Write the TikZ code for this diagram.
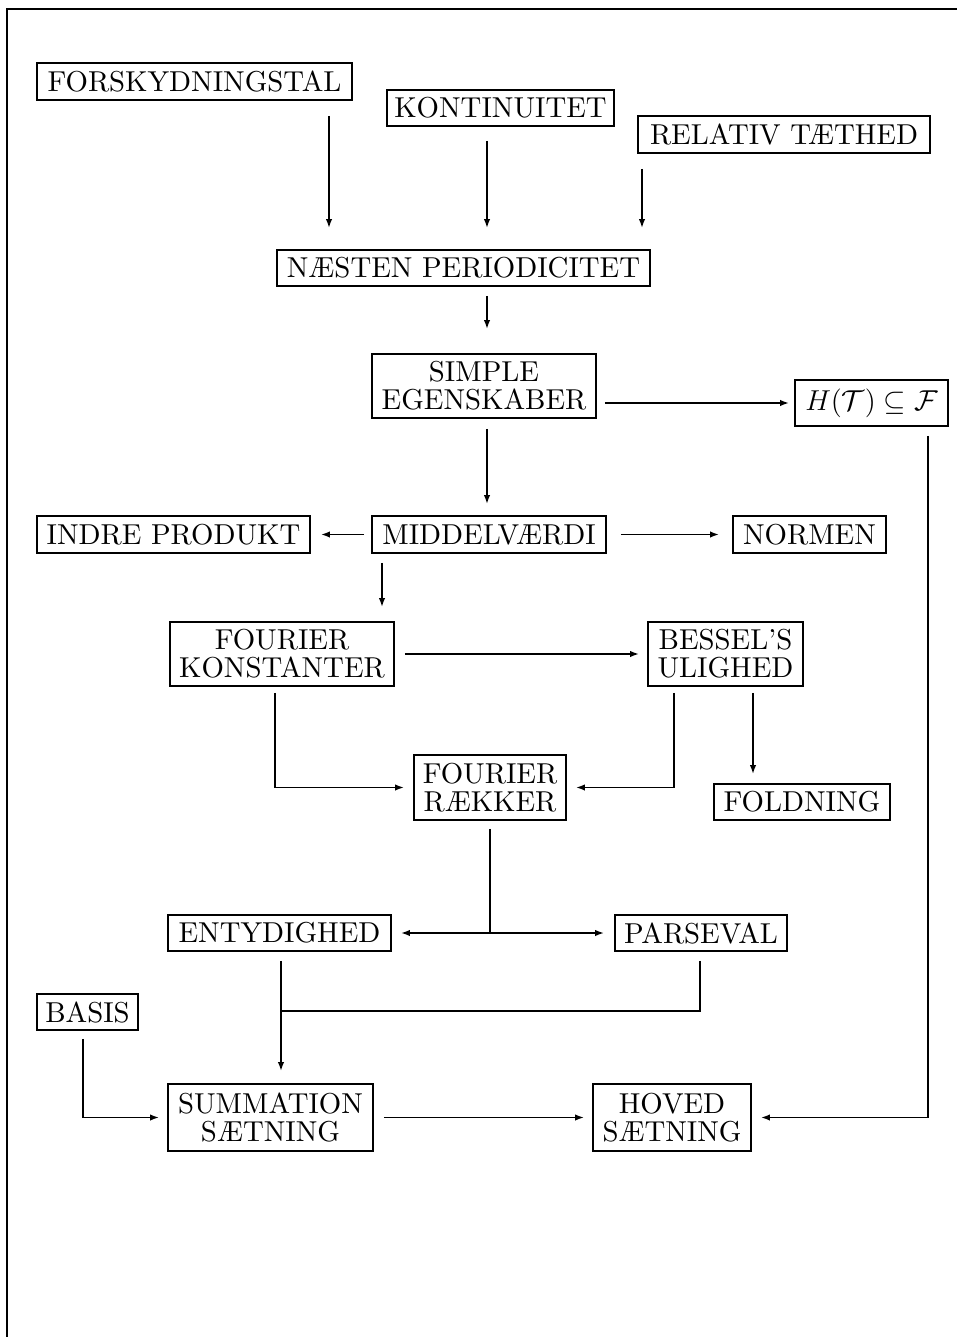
\documentclass[tikz,border=0pt]{standalone}
\usepackage{amssymb}
\usepackage{fontspec}
\setmainfont{lmroman10-regular}[Extension=.otf]
\usetikzlibrary{arrows.meta}
\begin{document}
\begin{tikzpicture}[x=0.5pt,y=-0.5pt,
  box/.style={draw, line width=0.9pt, inner sep=0pt, align=center,
    font=\fontsize{14.4}{14}\selectfont},
  sz/.style 2 args={minimum width={#1*0.5pt}, minimum height={#2*0.5pt}},
  ln/.style={line width=0.8pt},
  arr/.style={line width=0.8pt, -{Latex[length=4.5pt,width=3.2pt]}}]
\useasboundingbox (0,0) rectangle (957,1337);
\draw[line width=1.1pt] (7,1337) -- (7,9) -- (957,9);

% nodes
\node[box, sz={315}{37}] (forsk) at (194.5,81.5) {FORSKYDNINGSTAL};
\node[box, sz={227}{36}] (konti) at (500.5,108) {KONTINUITET};
\node[box, sz={292}{37}] (relativ) at (784,134.5) {RELATIV TÆTHED};
\node[box, sz={373}{36}] (nps) at (463.5,268) {NÆSTEN PERIODICITET};
\node[box, sz={224}{64}] (simple) at (484,386) {SIMPLE\\EGENSKABER};
\node[box, sz={153}{46}] (H) at (871.5,403) {$H(\mathcal{T})\subseteq\mathcal{F}$};
\node[box, sz={234}{37}] (middel) at (489,534.5) {MIDDELVÆRDI};
\node[box, sz={273}{37}] (indre) at (173.5,534.5) {INDRE PRODUKT};
\node[box, sz={153}{37}] (normen) at (809.5,534.5) {NORMEN};
\node[box, sz={224}{64}] (fkonst) at (282,654) {FOURIER\\KONSTANTER};
\node[box, sz={155}{64}] (bessel) at (725.5,654) {BESSEL'S\\ULIGHED};
\node[box, sz={152}{65}] (raekker) at (490,787.5) {FOURIER\\RÆKKER};
\node[box, sz={176}{36}] (fold) at (802,802) {FOLDNING};
\node[box, sz={223}{36}] (entyd) at (279.5,933) {ENTYDIGHED};
\node[box, sz={172}{36}] (parseval) at (701,933) {PARSEVAL};
\node[box, sz={101}{36}] (basis) at (87.5,1012) {BASIS};
\node[box, sz={205}{67}] (sum) at (270.5,1117.5) {SUMMATION\\SÆTNING};
\node[box, sz={158}{67}] (hoved) at (672,1117.5) {HOVED\\SÆTNING};

% lanes
\coordinate (L1) at (329,0);
\coordinate (L2) at (487,0);
\coordinate (L3) at (642,0);
\coordinate (L4) at (382,0);
\coordinate (L5) at (275,0);
\coordinate (L6) at (674,0);
\coordinate (L7) at (753,0);
\coordinate (L8) at (281,0);
\coordinate (L9) at (700,0);
\coordinate (L10) at (83,0);
\coordinate (L11) at (928,0);
\coordinate (J) at (281,1011);

% connectors
\draw[arr, shorten <=7.5pt, shorten >=10.5pt] (forsk.south -| L1) -- (nps.north -| L1);
\draw[arr, shorten <=7pt, shorten >=10.5pt] (konti.south -| L2) -- (nps.north -| L2);
\draw[arr, shorten <=7.5pt, shorten >=10.5pt] (relativ.south -| L3) -- (nps.north -| L3);
\draw[arr, shorten <=4.5pt, shorten >=12pt] (nps.south -| L2) -- (simple.north -| L2);
\draw[arr, shorten <=4pt, shorten >=2.5pt] (simple.east |- H.west) -- (H.west);
\draw[arr, shorten <=5pt, shorten >=5.5pt] (simple.south -| L2) -- (middel.north -| L2);
\draw[arr, shorten <=3.5pt, shorten >=5pt] (middel.west) -- (indre.east);
\draw[arr, shorten <=7pt, shorten >=6.5pt] (middel.east) -- (normen.west);
\draw[arr, shorten <=4.5pt, shorten >=7pt] (middel.south -| L4) -- (fkonst.north -| L4);
\draw[arr, shorten <=5pt, shorten >=4pt] (fkonst.east) -- (bessel.west);
\draw[arr, shorten <=3pt, shorten >=4.5pt] (fkonst.south -| L5) |- (raekker.west);
\draw[arr, shorten <=3pt, shorten >=4.5pt] (bessel.south -| L6) |- (raekker.east);
\draw[arr, shorten <=3pt, shorten >=4.5pt] (bessel.south -| L7) -- (fold.north -| L7);
\coordinate (B) at (raekker.south |- entyd.east);
\draw[ln, shorten <=4pt] (raekker.south) -- (B);
\draw[arr, shorten >=4.5pt] (B) -- (entyd.east);
\draw[arr, shorten >=5pt] (B) -- (parseval.west);
\draw[arr, shorten <=4.5pt, shorten >=6pt] (entyd.south -| L8) -- (sum.north -| L8);
\draw[ln, shorten <=4.5pt] (parseval.south -| L9) |- (J);
\draw[arr, shorten <=4pt, shorten >=4pt] (basis.south -| L10) |- (sum.west);
\draw[arr, shorten <=5pt, shorten >=4pt] (sum.east) -- (hoved.west);
\draw[arr, shorten <=4.5pt, shorten >=4.5pt] (H.south -| L11) |- (hoved.east);
\end{tikzpicture}
\end{document}
